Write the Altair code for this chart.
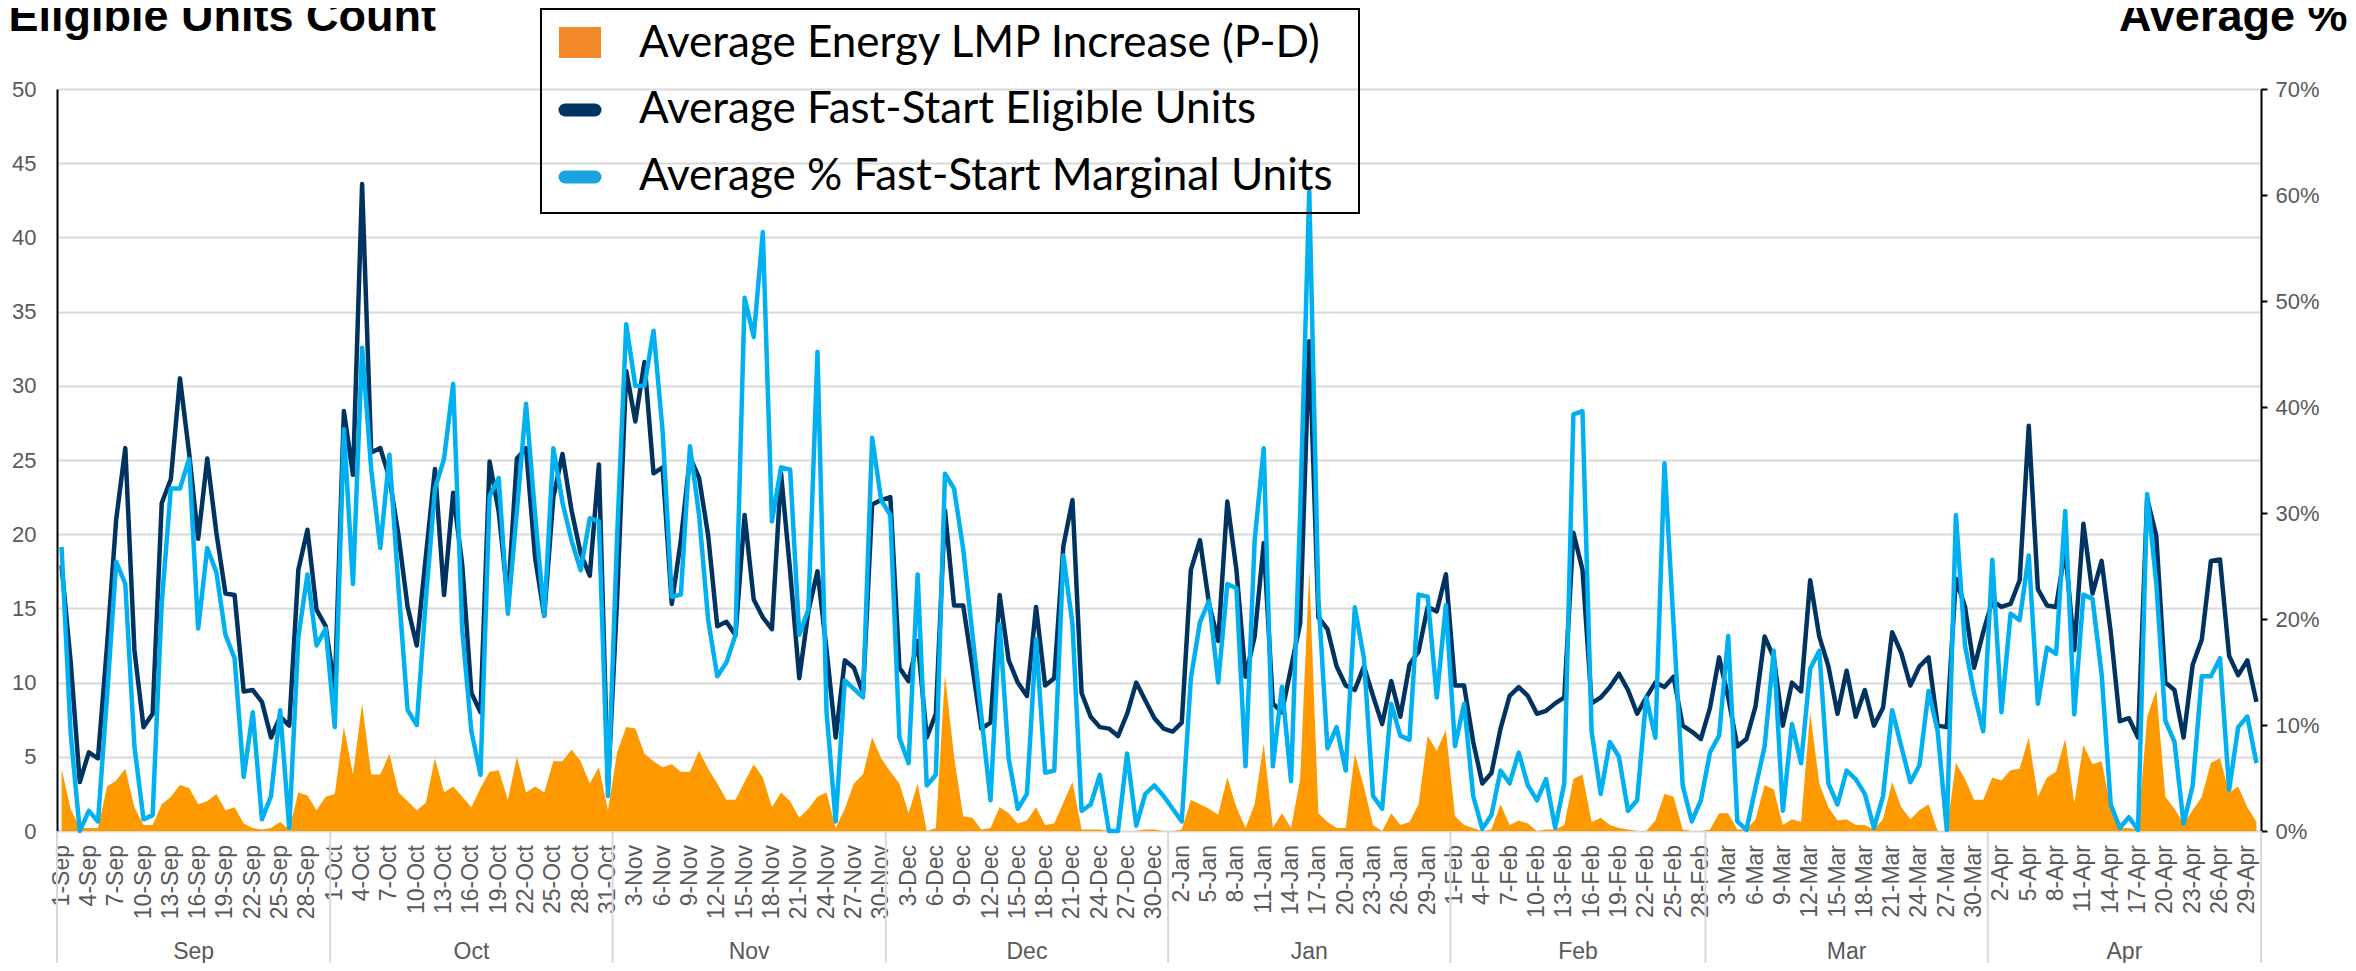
import altair as alt
import pandas as pd

# ---------------- data ----------------
dates = pd.date_range("2022-09-01", "2023-04-30", freq="D")
day_labels = [f"{d.day}-{d.strftime('%b')}" for d in dates]

lmp_increase = [
    4.2, 1.5, 0.2, 0.2, 0.2, 3.0, 3.4, 4.2, 1.6, 0.4,
    0.4, 1.8, 2.3, 3.1, 2.9, 1.8, 2.0, 2.5, 1.4, 1.6,
    0.5, 0.2, 0.1, 0.2, 0.6, 0.1, 2.6, 2.4, 1.4, 2.3,
    2.5, 7.0, 3.8, 8.6, 3.8, 3.8, 5.2, 2.6, 2.0, 1.4,
    1.9, 4.9, 2.6, 3.0, 2.3, 1.6, 2.9, 4.0, 4.1, 2.1,
    5.0, 2.6, 3.0, 2.6, 4.7, 4.7, 5.5, 4.7, 3.2, 4.3,
    1.4, 5.3, 7.0, 6.9, 5.2, 4.7, 4.3, 4.5, 4.0, 4.0,
    5.4, 4.2, 3.2, 2.1, 2.1, 3.3, 4.5, 3.6, 1.6, 2.6,
    2.0, 0.9, 1.5, 2.3, 2.6, 0.2, 1.5, 3.2, 3.8, 6.3,
    4.9, 4.0, 3.2, 1.2, 3.2, 0.0, 0.2, 10.5, 5.0, 1.0,
    0.9, 0.1, 0.2, 1.6, 1.2, 0.5, 0.7, 1.6, 0.4, 0.5,
    1.9, 3.3, 0.1, 0.1, 0.1, 0.0, 0.0, 0.0, 0.0, 0.1,
    0.1, 0.0, 0.0, 0.1, 2.1, 1.8, 1.5, 1.1, 3.6, 1.6,
    0.2, 1.8, 5.9, 0.2, 1.2, 0.2, 3.5, 17.5, 1.2, 0.6,
    0.2, 0.2, 5.2, 3.0, 0.4, 0.0, 1.2, 0.4, 0.6, 1.8,
    6.4, 5.4, 6.8, 1.0, 0.4, 0.2, 0.0, 0.1, 1.8, 0.4,
    0.7, 0.5, 0.0, 0.1, 0.1, 0.4, 3.5, 3.8, 0.6, 0.9,
    0.4, 0.2, 0.1, 0.0, 0.0, 0.7, 2.5, 2.3, 0.1, 0.0,
    0.0, 0.1, 1.2, 1.2, 0.1, 0.1, 0.8, 3.1, 2.8, 0.4,
    0.8, 0.6, 8.0, 3.2, 1.6, 0.7, 0.8, 0.4, 0.4, 0.1,
    0.8, 3.3, 1.6, 0.8, 1.4, 1.8, 0.0, 0.0, 4.6, 3.5,
    2.1, 2.1, 3.6, 3.4, 4.1, 4.2, 6.3, 2.3, 3.6, 4.0,
    6.2, 1.9, 5.8, 4.5, 4.7, 1.6, 0.2, 0.2, 0.1, 7.7,
    9.5, 2.3, 1.5, 0.5, 1.4, 2.3, 4.6, 4.9, 2.6, 3.0,
    1.6, 0.6,
]

eligible_units = [
    17.9, 11.4, 3.3, 5.3, 4.9, 12.5, 21.0, 25.8, 12.2, 7.0,
    7.9, 22.1, 23.7, 30.5, 25.5, 19.7, 25.1, 20.1, 16.0, 15.9,
    9.4, 9.5, 8.7, 6.3, 7.7, 7.1, 17.6, 20.3, 14.9, 13.8,
    9.5, 28.3, 24.0, 43.6, 25.5, 25.8, 23.8, 19.9, 15.1, 12.5,
    18.5, 24.4, 15.9, 22.8, 17.9, 9.3, 8.0, 24.9, 21.5, 15.6,
    25.1, 25.8, 18.4, 14.5, 22.5, 25.4, 21.6, 18.7, 17.2, 24.7,
    3.0, 15.6, 31.0, 27.6, 31.6, 24.1, 24.5, 15.3, 19.6, 25.2,
    23.8, 19.9, 13.8, 14.1, 13.2, 21.3, 15.6, 14.4, 13.6, 24.1,
    17.5, 10.3, 14.8, 17.5, 12.2, 6.3, 11.5, 11.0, 9.3, 22.0,
    22.3, 22.5, 11.0, 10.1, 12.8, 6.3, 7.9, 21.6, 15.2, 15.2,
    11.1, 6.9, 7.3, 15.9, 11.5, 10.0, 9.1, 15.1, 9.8, 10.3,
    19.2, 22.3, 9.3, 7.7, 7.0, 6.9, 6.4, 7.9, 10.0, 8.8,
    7.6, 6.9, 6.7, 7.3, 17.6, 19.6, 15.3, 12.8, 22.2, 17.6,
    10.4, 13.1, 19.4, 8.6, 8.0, 11.0, 14.0, 33.0, 14.4, 13.6,
    11.1, 9.8, 9.5, 11.1, 9.1, 7.2, 10.1, 7.7, 11.2, 12.1,
    15.1, 14.8, 17.3, 9.8, 9.8, 6.0, 3.2, 3.9, 6.9, 9.1,
    9.7, 9.1, 7.9, 8.1, 8.6, 9.0, 20.1, 17.6, 8.6, 9.0,
    9.7, 10.6, 9.5, 7.9, 9.0, 10.0, 9.7, 10.4, 7.1, 6.7,
    6.2, 8.3, 11.7, 9.0, 5.7, 6.2, 8.4, 13.1, 11.7, 7.1,
    10.0, 9.4, 16.9, 13.1, 11.1, 7.9, 10.8, 7.7, 9.5, 7.1,
    8.3, 13.4, 12.0, 9.8, 11.1, 11.7, 7.1, 7.0, 17.0, 15.1,
    11.0, 13.4, 15.5, 15.1, 15.3, 16.9, 27.3, 16.3, 15.2, 15.1,
    19.0, 12.2, 20.7, 16.0, 18.2, 13.4, 7.4, 7.6, 6.3, 22.4,
    19.9, 10.0, 9.5, 6.3, 11.2, 12.9, 18.2, 18.3, 11.8, 10.5,
    11.5, 8.7,
]

marginal_pct = [
    26.8, 9.2, 0.0, 1.9, 0.9, 12.8, 25.4, 23.3, 8.0, 1.1,
    1.5, 21.5, 32.3, 32.3, 35.1, 19.1, 26.7, 24.4, 18.5, 16.3,
    5.1, 11.2, 1.1, 3.3, 11.4, 0.3, 18.3, 24.2, 17.5, 19.1,
    9.8, 37.9, 23.3, 45.6, 34.1, 26.7, 35.5, 22.9, 11.4, 10.0,
    21.8, 32.3, 35.1, 42.2, 18.9, 9.4, 5.3, 31.6, 33.3, 20.5,
    30.2, 40.3, 29.8, 20.3, 36.1, 31.0, 27.4, 24.6, 29.5, 29.2,
    3.3, 27.8, 47.8, 42.0, 42.0, 47.2, 37.7, 22.1, 22.3, 36.3,
    29.8, 19.9, 14.6, 15.9, 18.5, 50.3, 46.6, 56.5, 29.2, 34.3,
    34.1, 18.5, 20.9, 45.2, 11.2, 0.9, 14.2, 13.4, 12.6, 37.1,
    31.2, 29.8, 8.8, 6.4, 24.2, 4.3, 5.3, 33.7, 32.3, 26.6,
    18.7, 10.8, 2.9, 19.5, 6.8, 2.1, 3.5, 18.1, 5.5, 5.7,
    26.0, 19.5, 1.9, 2.5, 5.3, 0.0, 0.0, 7.3, 0.5, 3.5,
    4.3, 3.3, 2.1, 0.9, 14.4, 19.7, 21.7, 14.0, 23.3, 22.9,
    6.1, 27.4, 36.1, 6.1, 13.6, 4.7, 30.0, 60.4, 22.0, 7.8,
    9.8, 5.7, 21.1, 16.3, 3.3, 2.1, 12.0, 9.0, 8.6, 22.3,
    22.1, 12.6, 21.3, 8.0, 12.0, 3.3, 0.2, 1.5, 5.7, 4.5,
    7.4, 4.3, 2.9, 4.9, 0.3, 4.5, 39.3, 39.6, 9.4, 3.5,
    8.4, 7.0, 1.9, 2.9, 12.6, 8.8, 34.7, 19.5, 4.3, 0.9,
    2.9, 7.4, 9.0, 18.4, 0.9, 0.1, 4.1, 8.0, 17.0, 1.9,
    10.1, 6.4, 15.3, 17.0, 4.5, 2.5, 5.7, 4.9, 3.5, 0.3,
    3.3, 11.4, 8.0, 4.6, 6.2, 13.2, 9.4, 0.1, 29.8, 17.5,
    13.0, 9.4, 25.6, 11.2, 20.5, 19.9, 26.0, 12.0, 17.3, 16.7,
    30.2, 11.0, 22.3, 21.9, 14.8, 2.5, 0.3, 1.3, 0.1, 31.8,
    23.4, 10.4, 8.4, 0.7, 4.3, 14.6, 14.6, 16.3, 3.9, 9.8,
    10.8, 6.4,
]

legend_labels = [
    "Average Energy LMP Increase (P-D)",
    "Average Fast-Start Eligible Units",
    "Average % Fast-Start Marginal Units",
]
left_title = "Eligible Units Count"
right_title = "Average %"

# ---------------- tables ----------------
n = len(dates)
df = pd.DataFrame({
    "i": list(range(n)),
    "lmp": lmp_increase,
    "elig": eligible_units,
    "pct": [p / 100 for p in marginal_pct],
})
tick_idx = list(range(0, n, 3))
tick_df = pd.DataFrame({"i": tick_idx, "lab": [day_labels[k] for k in tick_idx]})

month_names = [d.strftime("%b") for d in dates]
mdf = pd.DataFrame({"i": range(n), "m": month_names})
groups = mdf.groupby("m", sort=False)["i"].agg(["min", "max"]).reset_index()
month_df = pd.DataFrame({"name": groups["m"], "c": (groups["min"] + groups["max"]) / 2})
sep_df = pd.DataFrame({"b": [-0.5] + [s - 0.5 for s in groups["min"][1:]] + [n - 0.5]})

# ---------------- layout ----------------
W, H = 2204, 742
GREY = "#595959"
GRID = "#D9D9D9"
FONT = "Liberation Sans"

xscale = alt.Scale(domain=[-0.5, n - 0.5], nice=False, zero=False)
x_axis = alt.Axis(
    values=tick_idx, labels=False, ticks=False, grid=False,
    domain=True, domainColor=GRID, domainWidth=2, title=None,
)

left_axis = alt.Axis(
    values=list(range(0, 51, 5)), grid=True, gridColor=GRID, gridWidth=2,
    domain=True, domainColor="black", domainWidth=2, ticks=False,
    labelPadding=21, labelFontSize=22, labelColor=GREY, labelFont=FONT, title=None,
)
yscale_left = alt.Scale(domain=[0, 50], nice=False)

right_axis = alt.Axis(
    orient="right", values=[round(k * 0.1, 1) for k in range(8)], format=".0%",
    grid=False, domain=True, domainColor="black", domainWidth=2, ticks=True,
    tickColor="black", tickSize=6, tickWidth=2, labelPadding=8,
    labelFontSize=22, labelColor=GREY, labelFont=FONT, title=None,
)
yscale_right = alt.Scale(domain=[0, 0.7], nice=False)

base = alt.Chart(df)
area = base.mark_area(color="#FF9900", opacity=1).encode(
    x=alt.X("i:Q", scale=xscale, axis=x_axis),
    y=alt.Y("lmp:Q", scale=yscale_left, axis=left_axis),
)
navy = base.mark_line(color="#00335F", strokeWidth=4.5, strokeJoin="round").encode(
    x=alt.X("i:Q", scale=xscale, axis=x_axis),
    y=alt.Y("elig:Q", scale=yscale_left, axis=left_axis),
)
left = alt.layer(area, navy)

blue = base.mark_line(color="#00B0F0", strokeWidth=4.5, strokeJoin="round").encode(
    x=alt.X("i:Q", scale=xscale, axis=x_axis),
    y=alt.Y("pct:Q", scale=yscale_right, axis=right_axis),
)

tick_labels = alt.Chart(tick_df).mark_text(
    angle=270, align="right", baseline="middle", fontSize=23, color=GREY, font=FONT
).encode(
    x=alt.X("i:Q", scale=xscale, axis=None),
    y=alt.value(H + 14),
    text="lab:N",
)

seps = alt.Chart(sep_df).mark_rule(color=GRID, strokeWidth=2).encode(
    x=alt.X("b:Q", scale=xscale, axis=None),
    y=alt.value(H), y2=alt.value(H + 150),
)
months = alt.Chart(month_df).mark_text(
    fontSize=23, color=GREY, font=FONT, baseline="middle", align="center"
).encode(
    x=alt.X("c:Q", scale=xscale, axis=None),
    y=alt.value(H + 121),
    text="name:N",
)

one = pd.DataFrame({"k": [0]})
leg_box = alt.Chart(one).mark_rect(fillOpacity=0, stroke="black", strokeWidth=2).encode(
    x=alt.value(484), x2=alt.value(1302), y=alt.value(-80), y2=alt.value(124)
)
leg_sq = alt.Chart(one).mark_rect(color="#F28A2A").encode(
    x=alt.value(502), x2=alt.value(544), y=alt.value(-62), y2=alt.value(-31)
)
leg_navy = alt.Chart(one).mark_rule(color="#00335F", strokeWidth=13, strokeCap="round").encode(
    x=alt.value(508), x2=alt.value(538), y=alt.value(21)
)
leg_blue = alt.Chart(one).mark_rule(color="#1BA3E0", strokeWidth=13, strokeCap="round").encode(
    x=alt.value(508), x2=alt.value(538), y=alt.value(88)
)
leg_texts = [
    alt.Chart(one).mark_text(
        text=lab, font="Lato", fontSize=44, color="black", align="left", baseline="middle"
    ).encode(x=alt.value(582), y=alt.value(yy))
    for lab, yy in zip(legend_labels, [-45, 21, 88])
]

t_left = alt.Chart(one).mark_text(
    text=left_title, font=FONT, fontWeight="bold", fontSize=45, color="black",
    align="right", baseline="alphabetic",
).encode(x=alt.value(379), y=alt.value(-58))
t_right = alt.Chart(one).mark_text(
    text=right_title, font=FONT, fontWeight="bold", fontSize=45, color="black",
    align="left", baseline="alphabetic",
).encode(x=alt.value(2062), y=alt.value(-58))

chart = alt.layer(
    left, blue, tick_labels, seps, months, leg_box, leg_sq, leg_navy, leg_blue,
    *leg_texts, t_left, t_right
).resolve_scale(y="independent").properties(
    width=W, height=H,
    autosize=alt.AutoSizeParams(type="none"),
    padding={"left": 49, "top": 81, "right": 87, "bottom": 132},
).configure_view(stroke=None).configure(background="white")

chart.save("out.html", embed_options={"renderer": "svg", "actions": False})
